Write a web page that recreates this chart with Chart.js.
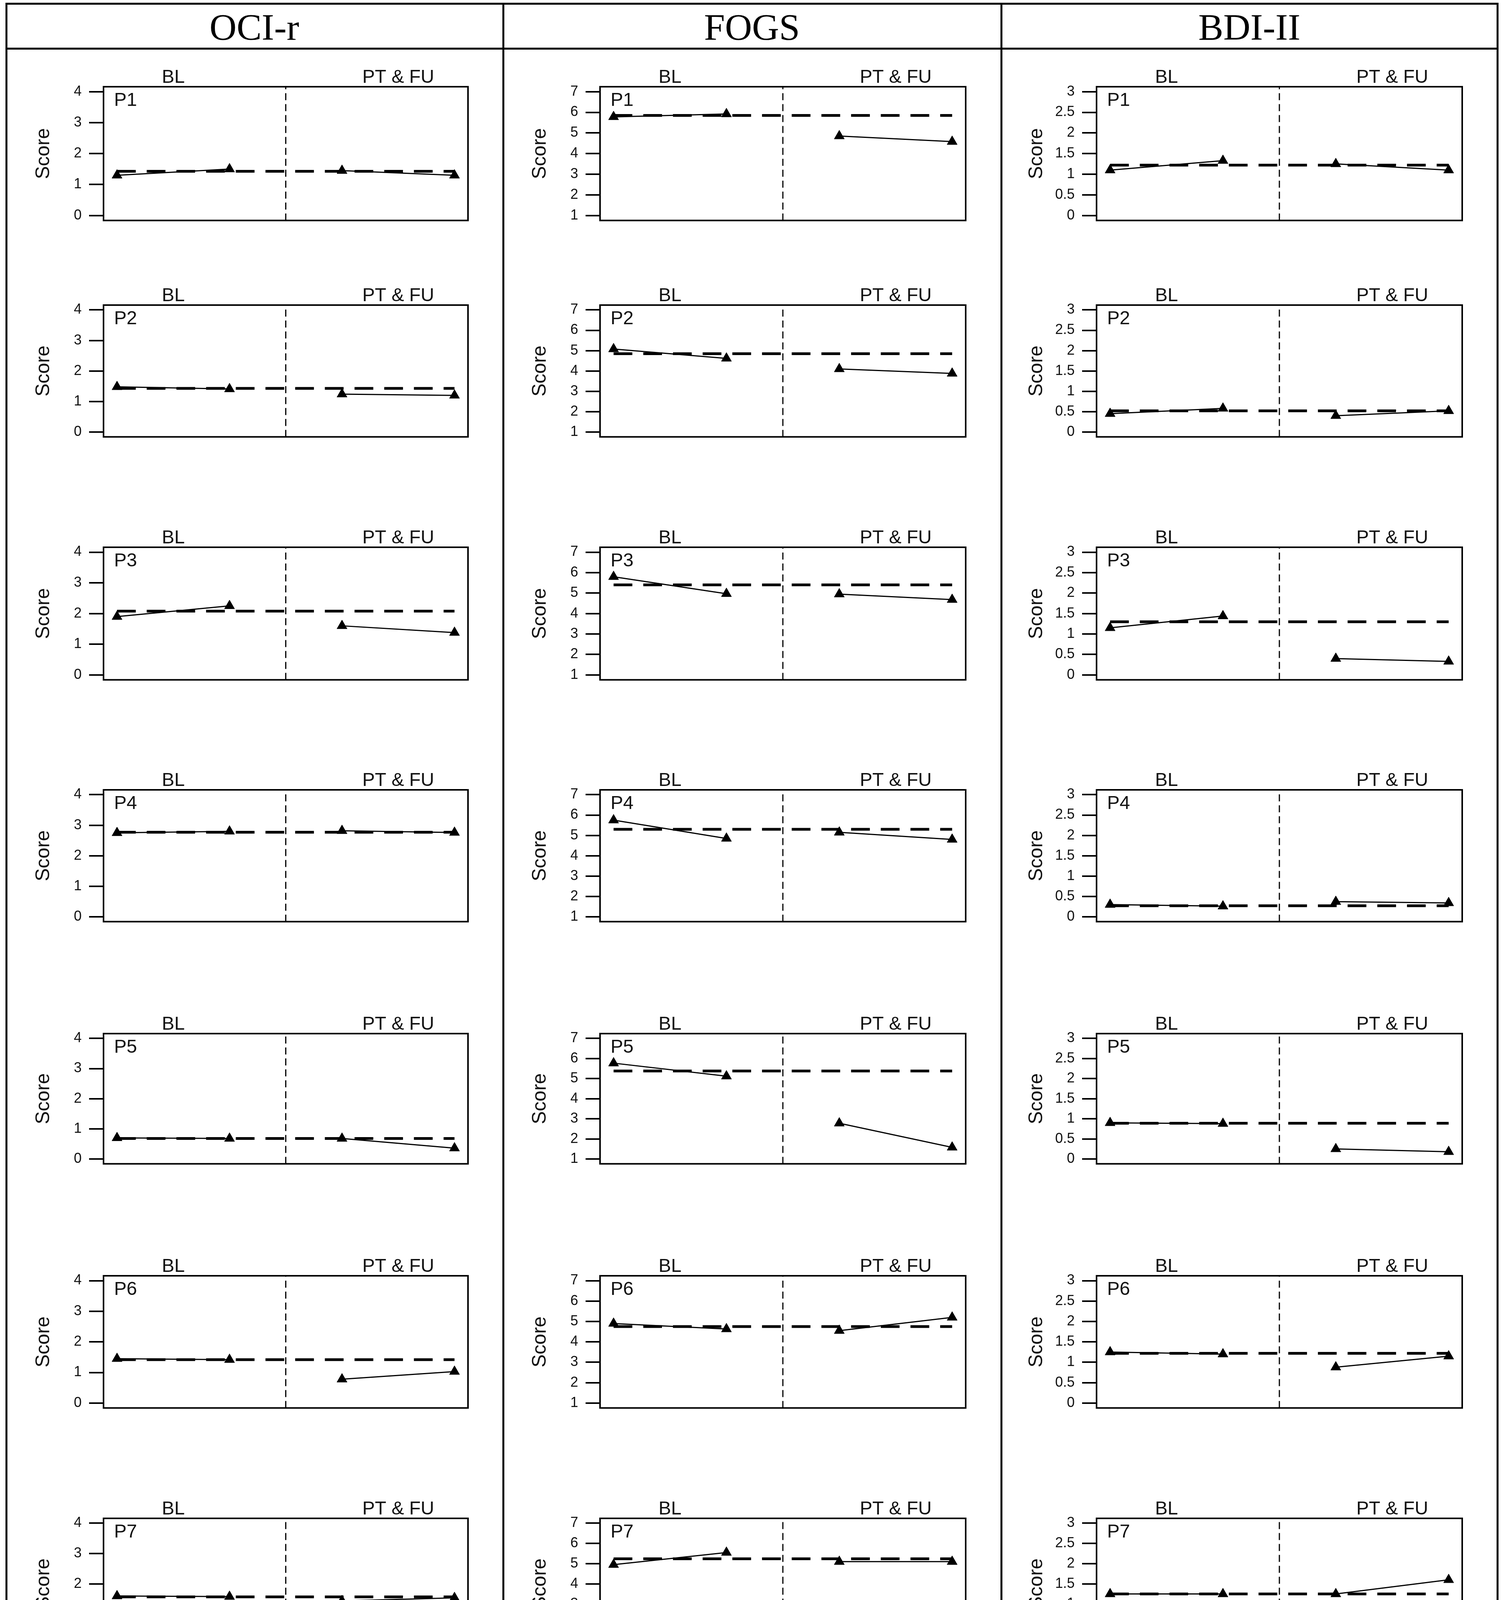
<!DOCTYPE html>
<html>
<head>
<meta charset="utf-8">
<script src="https://cdn.jsdelivr.net/npm/chart.js@4.4.0/dist/chart.umd.min.js"></script>
<style>
html,body{margin:0;padding:0;background:#fff;}
body{width:3850px;height:5024px;position:relative;overflow:hidden;}
#wrap{position:absolute;left:0;top:0;width:3850px;height:5024px;}
.line{position:absolute;background:#000;}
.hdr{position:absolute;font-family:"Liberation Serif","Times New Roman",serif;font-size:96px;color:#000;transform:translate(-50%,-50%);white-space:nowrap;line-height:1;}
canvas{position:absolute;}
</style>
</head>
<body>
<div id="wrap"></div>
<script>
// ---------------- data ----------------
const measures = ['OCI-r', 'FOGS', 'BDI-II'];
const participants = ['P1', 'P2', 'P3', 'P4', 'P5', 'P6', 'P7', 'P8'];
const phaseLabels = ['BL', 'PT & FU'];
const blTimes = [1, 2];
const ptTimes = [3, 4];
const xTickValues = [1, 2, 3, 4];
const xAxisTitle = 'Measurement time';
const yAxisTitle = 'Score';

// scores per participant at measurement times 1..4 (P8 has no time 4)
const ociScores = [
  [1.30, 1.50, 1.45, 1.30],
  [1.48, 1.41, 1.24, 1.20],
  [1.90, 2.25, 1.60, 1.38],
  [2.75, 2.80, 2.82, 2.76],
  [0.70, 0.68, 0.68, 0.36],
  [1.45, 1.42, 0.78, 1.03],
  [1.60, 1.58, 1.44, 1.54],
  [1.47, 1.67, 1.37]
];
const ociMeans = [1.43, 1.43, 2.08, 2.77, 0.68, 1.42, 1.57, 1.57];
const ociTicks = [0, 1, 2, 3, 4];

const fogsScores = [
  [5.78, 5.92, 4.85, 4.58],
  [5.08, 4.62, 4.10, 3.88],
  [5.80, 4.97, 4.95, 4.68],
  [5.75, 4.85, 5.15, 4.80],
  [5.77, 5.12, 2.78, 1.58],
  [4.90, 4.63, 4.55, 5.20],
  [4.95, 5.55, 5.10, 5.10],
  [4.47, 4.17, 4.08]
];
const fogsMeans = [5.85, 4.85, 5.40, 5.30, 5.38, 4.75, 5.24, 4.33];
const fogsTicks = [1, 2, 3, 4, 5, 6, 7];

const bdiScores = [
  [1.10, 1.33, 1.25, 1.10],
  [0.45, 0.58, 0.40, 0.52],
  [1.15, 1.44, 0.40, 0.33],
  [0.30, 0.26, 0.37, 0.34],
  [0.90, 0.88, 0.25, 0.18],
  [1.25, 1.20, 0.88, 1.15],
  [1.25, 1.25, 1.25, 1.60],
  [0.65, 0.63, 0.52]
];
const bdiMeans = [1.22, 0.52, 1.30, 0.27, 0.89, 1.22, 1.25, 0.64];
const bdiTicks = [0, 0.5, 1, 1.5, 2, 2.5, 3];

// ---------------- layout (positions / styles) ----------------
const boxTops = [222, 781, 1401, 2022, 2646, 3266, 3887, 4450];
const boxHeights = [371, 366, 368, 366, 362, 367, 364, 354];
const boxLefts = [265, 1536, 2807];
const boxWidths = [937, 940, 940];
const colCenters = [651, 1925, 3198];
const SANS = '"Liberation Sans", Arial, Helvetica, sans-serif';
const host = document.getElementById('wrap');

function addLine(x, y, w, h) {
  const d = document.createElement('div');
  d.className = 'line';
  d.style.left = x + 'px'; d.style.top = y + 'px';
  d.style.width = w + 'px'; d.style.height = h + 'px';
  host.appendChild(d);
}
// table frame
addLine(14, 7, 3822, 5);
addLine(14, 5008, 3822, 6);
addLine(14, 7, 5, 5007);
addLine(3831, 7, 5, 5007);
addLine(14, 122, 3822, 5);
addLine(1286, 7, 5, 5007);
addLine(2561, 7, 5, 5007);

measures.forEach((m, i) => {
  const d = document.createElement('div');
  d.className = 'hdr';
  d.textContent = m;
  d.style.left = colCenters[i] + 'px';
  d.style.top = '70px';
  host.appendChild(d);
});

const framePlugin = {
  id: 'frame',
  afterDatasetsDraw(chart, args, opts) {
    const { ctx, chartArea: a } = chart;
    ctx.save();
    ctx.strokeStyle = '#000';
    ctx.lineWidth = 4;
    ctx.strokeRect(a.left, a.top, a.right - a.left, a.bottom - a.top);
    ctx.fillStyle = '#111';
    ctx.font = '48px ' + SANS;
    ctx.textBaseline = 'middle';
    ctx.textAlign = 'left';
    ctx.fillText(opts.label, a.left + 27, a.top + 36);
    ctx.restore();
  }
};

const measureData = [
  { scores: ociScores, means: ociMeans, ticks: ociTicks },
  { scores: fogsScores, means: fogsMeans, ticks: fogsTicks },
  { scores: bdiScores, means: bdiMeans, ticks: bdiTicks }
];

const xMin = xTickValues[0] - 0.04 * (xTickValues[3] - xTickValues[0]);
const xMax = xTickValues[3] + 0.04 * (xTickValues[3] - xTickValues[0]);

function makePanel(col, row) {
  const md = measureData[col];
  const scores = md.scores[row];
  const mean = md.means[row];
  const t = md.ticks;
  const span = t[t.length - 1] - t[0];
  const yMin = t[0] - 0.04 * span;
  const yMax = t[t.length - 1] + 0.04 * span;
  const isBottom = row === participants.length - 1;

  const blPts = blTimes.map((x, i) => ({ x: x, y: scores[i] }));
  const ptAvail = ptTimes.filter((x, i) => scores[i + 2] !== undefined);
  const ptPts = ptAvail.map((x, i) => ({ x: x, y: scores[i + 2] }));
  const lastX = ptAvail[ptAvail.length - 1];
  const phasePos = [
    blTimes.reduce((a, b) => a + b, 0) / blTimes.length,
    ptAvail.reduce((a, b) => a + b, 0) / ptAvail.length
  ];
  const split = (blTimes[blTimes.length - 1] + ptTimes[0]) / 2;

  const leftPad = 200, topPad = 60, rightPad = 12;
  const xAxisH = isBottom ? 200 : 0;
  const bottomPad = isBottom ? 0 : 12;
  const W = boxWidths[col] + leftPad + rightPad;
  const H = boxHeights[row] + topPad + xAxisH + bottomPad;
  const cv = document.createElement('canvas');
  cv.width = W; cv.height = H;
  cv.style.width = W + 'px'; cv.style.height = H + 'px';
  cv.style.left = (boxLefts[col] - leftPad) + 'px';
  cv.style.top = (boxTops[row] - topPad) + 'px';
  host.appendChild(cv);

  const pointStyle = {
    borderColor: '#000', borderWidth: 3, backgroundColor: '#000',
    pointStyle: 'triangle', pointRadius: 15, pointBackgroundColor: '#000',
    pointBorderColor: '#000', pointBorderWidth: 1, fill: false, tension: 0, order: 0
  };

  new Chart(cv, {
    type: 'line',
    data: {
      datasets: [
        Object.assign({ label: 'BL', data: blPts }, pointStyle),
        Object.assign({ label: 'PT', data: ptPts }, pointStyle),
        { label: 'BL mean', data: [{ x: blTimes[0], y: mean }, { x: lastX, y: mean }],
          borderColor: '#000', borderWidth: 7, borderDash: [48, 28], pointRadius: 0, fill: false, order: 1 },
        { label: 'phase', data: [{ x: split, y: yMin }, { x: split, y: yMax }],
          borderColor: '#000', borderWidth: 3, borderDash: [18, 10], pointRadius: 0, fill: false, order: 2 }
      ]
    },
    options: {
      responsive: false,
      devicePixelRatio: 1,
      animation: false,
      events: [],
      layout: { padding: { left: 0, top: 0, right: rightPad, bottom: bottomPad } },
      plugins: {
        legend: { display: false },
        tooltip: { enabled: false },
        frame: { label: participants[row] }
      },
      scales: {
        x: {
          type: 'linear', position: 'bottom', min: xMin, max: xMax,
          display: isBottom,
          afterBuildTicks: s => { s.ticks = xTickValues.map(v => ({ value: v })); },
          ticks: { autoSkip: false, maxRotation: 0, minRotation: 0, padding: 13, color: '#111',
                   font: { family: SANS, size: 36 }, callback: v => String(v) },
          grid: { display: true, drawOnChartArea: false, drawTicks: true, tickLength: 33, lineWidth: 4, color: '#000' },
          border: { display: false },
          title: { display: true, text: xAxisTitle, color: '#111', font: { family: SANS, size: 50 },
                   padding: { top: 0, bottom: 14 } },
          afterFit: s => { s.height = xAxisH; }
        },
        x2: {
          type: 'linear', position: 'top', min: xMin, max: xMax,
          afterBuildTicks: s => { s.ticks = phasePos.map(v => ({ value: v })); },
          ticks: { autoSkip: false, maxRotation: 0, minRotation: 0, padding: -6, color: '#111',
                   font: { family: SANS, size: 48 }, callback: (v, i) => phaseLabels[i] },
          grid: { display: false, drawTicks: false },
          border: { display: false },
          afterFit: s => { s.height = topPad; }
        },
        y: {
          type: 'linear', position: 'left', min: yMin, max: yMax,
          afterBuildTicks: s => { s.ticks = t.map(v => ({ value: v })); },
          ticks: { autoSkip: false, padding: 19, color: '#111',
                   font: { family: SANS, size: 36 }, callback: v => String(v) },
          grid: { drawOnChartArea: false, drawTicks: true, tickLength: 37, lineWidth: 4, color: '#000' },
          border: { display: false },
          title: { display: true, text: yAxisTitle, color: '#111', font: { family: SANS, size: 50 },
                   padding: { top: 17, bottom: 0 } },
          afterFit: s => { s.width = leftPad; }
        }
      }
    },
    plugins: [framePlugin]
  });
}

for (let c = 0; c < measures.length; c++) {
  for (let r = 0; r < participants.length; r++) {
    makePanel(c, r);
  }
}
</script>
</body>
</html>
